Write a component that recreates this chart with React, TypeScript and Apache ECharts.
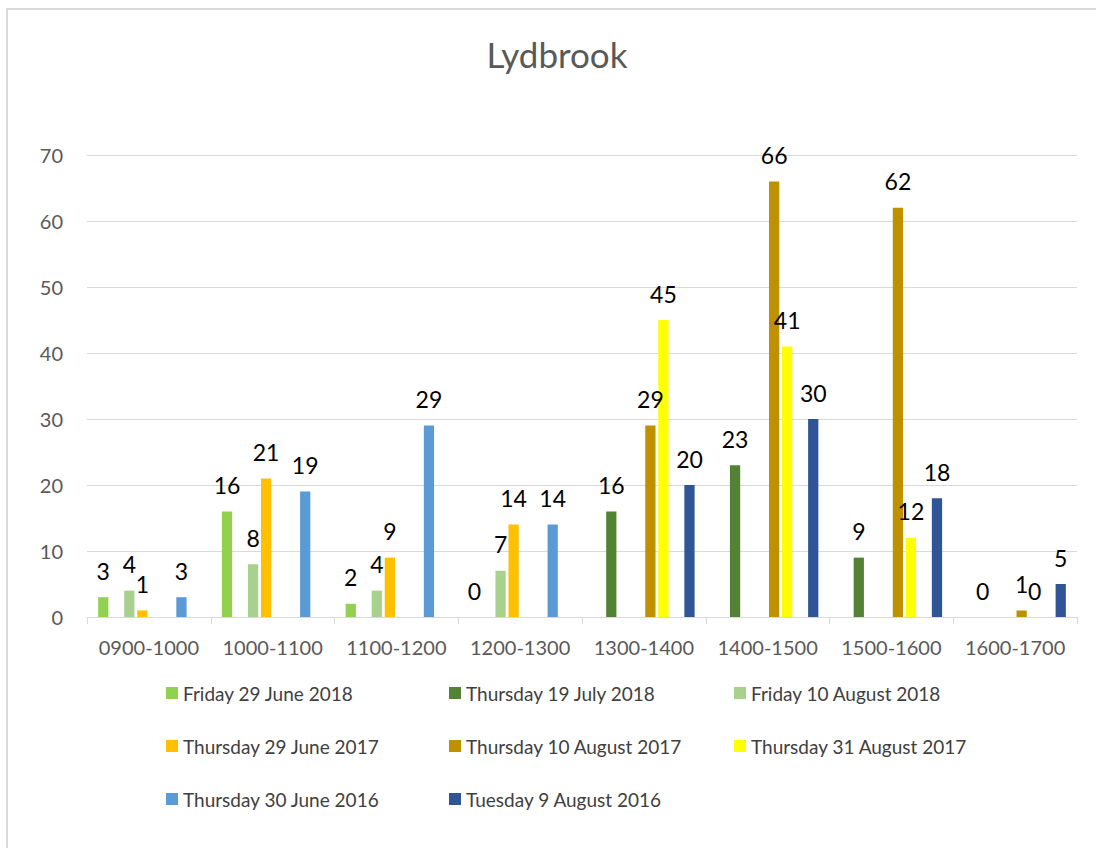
import React, { useEffect, useRef } from "react";
import * as echarts from "echarts";

const categories = ["0900-1000", "1000-1100", "1100-1200", "1200-1300", "1300-1400", "1400-1500", "1500-1600", "1600-1700"];

const seriesNames = [
  "Friday 29 June 2018",
  "Thursday 19 July 2018",
  "Friday 10 August 2018",
  "Thursday 29 June 2017",
  "Thursday 10 August 2017",
  "Thursday 31 August 2017",
  "Thursday 30 June 2016",
  "Tuesday 9 August 2016",
];

const fri29Jun2018 = [3, 16, 2, 0, null, null, null, null];
const thu19Jul2018 = [null, null, null, null, 16, 23, 9, 0];
const fri10Aug2018 = [4, 8, 4, 7, null, null, null, null];
const thu29Jun2017 = [1, 21, 9, 14, null, null, null, null];
const thu10Aug2017 = [null, null, null, null, 29, 66, 62, 1];
const thu31Aug2017 = [null, null, null, null, 45, 41, 12, 0];
const thu30Jun2016 = [3, 19, 29, 14, null, null, null, null];
const tue9Aug2016 = [null, null, null, null, 20, 30, 18, 5];

const seriesValues = [fri29Jun2018, thu19Jul2018, fri10Aug2018, thu29Jun2017, thu10Aug2017, thu31Aug2017, thu30Jun2016, tue9Aug2016];
const colors = ["#92d050", "#548235", "#a9d18e", "#ffc000", "#bf9000", "#ffff00", "#5b9bd5", "#2f5597"];

const yTicks = [0, 10, 20, 30, 40, 50, 60, 70];

const legendCols = [
  [seriesNames[0], seriesNames[3], seriesNames[6]],
  [seriesNames[1], seriesNames[4], seriesNames[7]],
  [seriesNames[2], seriesNames[5]],
];
const legendLefts = [161, 444, 729];

const FONT = "Lato, 'Open Sans', sans-serif";

export default function App() {
  const ref = useRef<HTMLDivElement>(null);
  useEffect(() => {
    if (!ref.current) return;
    const chart = echarts.init(ref.current, undefined, { renderer: "svg" });
    chart.setOption({
      animation: false,
      backgroundColor: "#ffffff",
      textStyle: { fontFamily: FONT },
      title: {
        text: "Lydbrook",
        left: 552,
        textAlign: "center",
        top: 31,
        textStyle: { fontSize: 35, fontWeight: "normal", color: "#595959", fontFamily: FONT },
      },
      graphic: [
        {
          type: "rect",
          shape: { x: 7, y: 9, width: 1200, height: 1000 },
          style: { fill: "none", stroke: "#d9d9d9", lineWidth: 2 },
          silent: true,
        },
      ],
      legend: legendCols.map((col, i) => ({
        orient: "vertical",
        left: legendLefts[i],
        top: 678,
        data: col,
        icon: "rect",
        itemWidth: 12,
        itemHeight: 12,
        itemGap: 33,
        selectedMode: false,
        textStyle: { fontSize: 19, color: "#404040", lineHeight: 20, fontFamily: FONT },
      })),
      grid: { left: 87, width: 990, top: 155, height: 462, containLabel: false },
      xAxis: {
        type: "category",
        data: categories,
        axisLine: { lineStyle: { color: "#d9d9d9", width: 1 } },
        axisTick: { show: true, length: 7, lineStyle: { color: "#d9d9d9" } },
        axisLabel: { fontSize: 20, color: "#595959", margin: 20, interval: 0, fontFamily: FONT },
      },
      yAxis: {
        type: "value",
        min: yTicks[0],
        max: yTicks[yTicks.length - 1],
        interval: 10,
        axisLine: { show: false },
        axisTick: { show: false },
        splitLine: { lineStyle: { color: "#d9d9d9", width: 1 } },
        axisLabel: { fontSize: 20, color: "#595959", margin: 24, fontFamily: FONT },
      },
      series: seriesNames.map((name, i) => ({
        name,
        type: "bar",
        data: seriesValues[i],
        barGap: "27%",
        barCategoryGap: "18%",
        itemStyle: { color: colors[i] },
        label: {
          show: true,
          position: "top",
          distance: 15,
          fontSize: 23,
          color: "#000000",
          fontFamily: FONT,
        },
      })),
    });
    return () => chart.dispose();
  }, []);
  return <div ref={ref} style={{ position: "absolute", left: 0, top: 0, width: 1096, height: 848 }} />;
}
